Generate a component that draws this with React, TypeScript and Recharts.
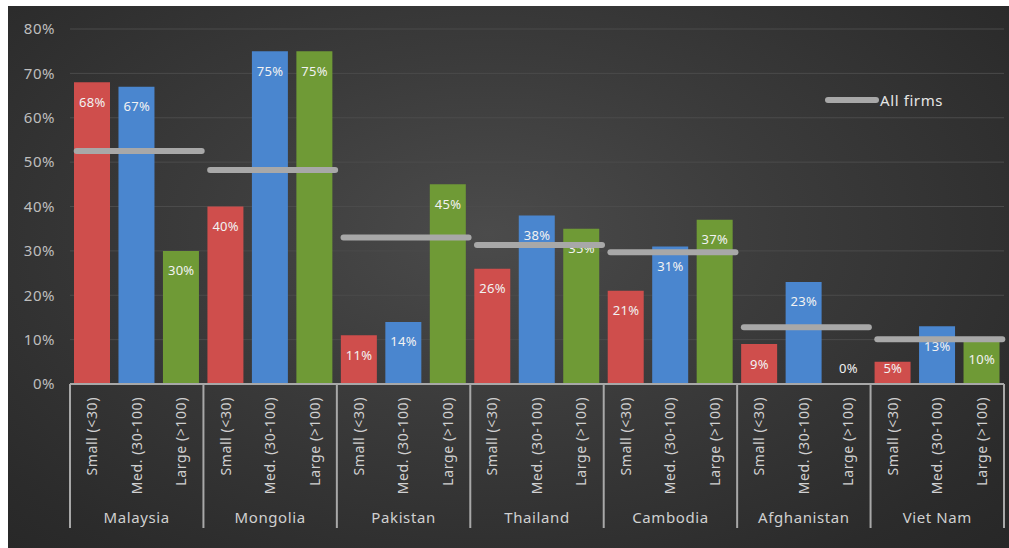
import React from 'react'
import {
  ComposedChart,
  Bar,
  Cell,
  Scatter,
  XAxis,
  YAxis,
  CartesianGrid,
} from 'recharts'

// ── Data ──────────────────────────────────────────────────────────────────────

const COUNTRIES = ['Malaysia', 'Mongolia', 'Pakistan', 'Thailand', 'Cambodia', 'Afghanistan', 'Viet Nam']
const SIZES = ['Small (<30)', 'Med. (30-100)', 'Large (>100)']
const SMALL = [68, 40, 11, 26, 21, 9, 5]
const MEDIUM = [67, 75, 14, 38, 31, 23, 13]
const LARGE = [30, 75, 45, 35, 37, 0, 10]
const ALL_FIRMS = [52.5, 48.2, 33, 31.3, 29.7, 12.8, 10.1]
const Y_TICKS = [0, 10, 20, 30, 40, 50, 60, 70, 80]

// ── Palette ───────────────────────────────────────────────────────────────────

const RED = '#CF4E4C'
const BLUE = '#4A86CF'
const GREEN = '#6F9A36'
const SIZE_COLORS = [RED, BLUE, GREEN]
const LINE_GRAY = '#A8A8A8'
const TEXT = '#D0D0D0'
const FONT = '"Noto Sans", "Open Sans", sans-serif'

// ── Layout ────────────────────────────────────────────────────────────────────

const W = 1001
const H = 542
const MARGIN = { top: 23, right: 5, left: 0, bottom: 20 }
const Y_WIDTH = 62
const SIZE_AXIS_H = 112
const COUNTRY_AXIS_H = 32
const BAND = (W - MARGIN.left - MARGIN.right - Y_WIDTH) / COUNTRIES.length
const BASELINE = H - MARGIN.bottom - COUNTRY_AXIS_H - SIZE_AXIS_H

const rows = COUNTRIES.flatMap((country, i) =>
  [SMALL[i], MEDIUM[i], LARGE[i]].map((value, j) => ({
    key: `${country}-${j}`,
    country,
    size: SIZES[j],
    sizeIdx: j,
    value,
  }))
)
const sizeByKey: Record<string, string> = Object.fromEntries(rows.map((r) => [r.key, r.size]))

const allFirmsRows = COUNTRIES.map((country, i) => ({ country, all: ALL_FIRMS[i] }))

// ── Custom pieces ─────────────────────────────────────────────────────────────

function SizeTick({ x, y, payload }: any) {
  return (
    <g transform={`translate(${x},${y + 13}) rotate(-90)`}>
      <text
        x={0}
        y={0}
        dy="0.35em"
        textAnchor="end"
        fontSize={14}
        letterSpacing={0.6}
        fill={TEXT}
        fontFamily={FONT}
      >
        {sizeByKey[payload.value]}
      </text>
    </g>
  )
}

function CountryTick({ x, y, payload, index }: any) {
  const top = y - SIZE_AXIS_H
  const bottom = y + COUNTRY_AXIS_H
  return (
    <g>
      <line x1={x - BAND / 2} x2={x - BAND / 2} y1={top} y2={bottom} stroke={LINE_GRAY} strokeWidth={2} />
      {index === COUNTRIES.length - 1 && (
        <line x1={x + BAND / 2} x2={x + BAND / 2} y1={top} y2={bottom} stroke={LINE_GRAY} strokeWidth={2} />
      )}
      <text
        x={x}
        y={y + 27}
        textAnchor="middle"
        fontSize={15}
        letterSpacing={0.6}
        fill={TEXT}
        fontFamily={FONT}
      >
        {payload.value}
      </text>
    </g>
  )
}

// value labels drawn as scatter marks sitting on the bar tops
function BarValueLabel({ cx, cy, payload }: any) {
  if (cx == null || cy == null) return null
  const ty = Math.min(cy + 20, BASELINE - 16)
  return (
    <text
      x={cx}
      y={ty}
      dy="0.35em"
      textAnchor="middle"
      fontSize={13}
      letterSpacing={0.3}
      fill="#F2F2F2"
      fontFamily={FONT}
    >
      {`${payload.value}%`}
    </text>
  )
}

function AllFirmsMark({ cx, cy }: any) {
  if (cx == null || cy == null) return null
  return (
    <line
      x1={cx - 60}
      x2={cx + 65}
      y1={cy}
      y2={cy}
      stroke={LINE_GRAY}
      strokeWidth={6}
      strokeLinecap="round"
    />
  )
}

function LegendBox() {
  return (
    <div
      style={{
        position: 'absolute',
        left: 816,
        top: 84,
        display: 'flex',
        alignItems: 'center',
        fontFamily: FONT,
      }}
    >
      <svg width={56} height={10}>
        <line x1={4} x2={52} y1={5} y2={5} stroke={LINE_GRAY} strokeWidth={6} strokeLinecap="round" />
      </svg>
      <span style={{ color: '#E6E6E6', fontSize: 15, letterSpacing: 0.6 }}>All firms</span>
    </div>
  )
}

// ── Chart ─────────────────────────────────────────────────────────────────────

export default function App() {
  return (
    <div
      style={{
        position: 'absolute',
        left: 8,
        top: 6,
        width: W,
        height: H,
        background: 'radial-gradient(ellipse at 48% 42%, #4b4b4b 0%, #3b3b3b 40%, #2b2b2b 85%, #272727 100%)',
      }}
    >
      <ComposedChart width={W} height={H} data={rows} margin={MARGIN} barSize={36}>
        <CartesianGrid stroke="#4b4b4b" vertical={false} />
        <XAxis
          dataKey="key"
          interval={0}
          height={SIZE_AXIS_H}
          tick={<SizeTick />}
          tickLine={false}
          tickSize={0}
          tickMargin={0}
          axisLine={{ stroke: LINE_GRAY, strokeWidth: 2 }}
        />
        <XAxis
          xAxisId="country"
          dataKey="country"
          allowDuplicatedCategory={false}
          interval={0}
          height={COUNTRY_AXIS_H}
          tick={<CountryTick />}
          tickLine={false}
          tickSize={0}
          tickMargin={0}
          axisLine={false}
        />
        <YAxis
          domain={[0, 80]}
          ticks={Y_TICKS}
          width={Y_WIDTH}
          tickFormatter={(v) => `${v}%`}
          tick={{ fontSize: 15, fill: '#BEBEBE', fontFamily: FONT, letterSpacing: 0.5 }}
          tickLine={false}
          tickSize={0}
          tickMargin={15}
          axisLine={false}
        />
        <Bar dataKey="value" isAnimationActive={false}>
          {rows.map((r) => (
            <Cell key={r.key} fill={SIZE_COLORS[r.sizeIdx]} />
          ))}
        </Bar>
        <Scatter dataKey="value" shape={<BarValueLabel />} isAnimationActive={false} />
        <Scatter
          xAxisId="country"
          data={allFirmsRows}
          dataKey="all"
          name="All firms"
          shape={<AllFirmsMark />}
          isAnimationActive={false}
        />
      </ComposedChart>
      <LegendBox />
    </div>
  )
}
